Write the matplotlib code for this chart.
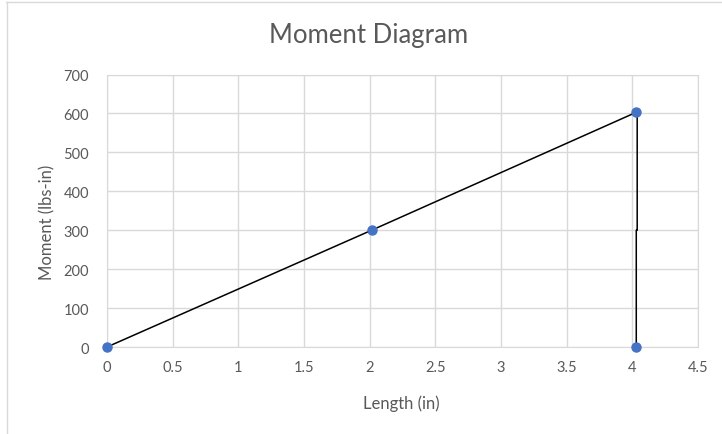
import matplotlib
matplotlib.use("Agg")
import matplotlib.pyplot as plt
from matplotlib.lines import Line2D

# Data
point_x = [0, 2.015, 4.03, 4.03]
point_y = [0, 300, 604, 0]
line_x = [0, 2.015, 4.037, 4.037, 4.03, 4.03]
line_y = [0, 300, 604, 300, 300, 0]
x_ticks = [0, 0.5, 1, 1.5, 2, 2.5, 3, 3.5, 4, 4.5]
x_tick_labels = ["0", "0.5", "1", "1.5", "2", "2.5", "3", "3.5", "4", "4.5"]
y_ticks = [0, 100, 200, 300, 400, 500, 600, 700]
title = "Moment Diagram"
xlabel = "Length (in)"
ylabel = "Moment (lbs-in)"

plt.rcParams['font.family'] = ['Lato', 'DejaVu Sans']
W, H = 722, 435
fig = plt.figure(figsize=(W / 100, H / 100), dpi=100)
fig.patch.set_facecolor('white')

left, right, top, bottom = 107, 698, 75.5, 348
ax = fig.add_axes([left / W, 1 - bottom / H, (right - left) / W, (bottom - top) / H])

text_color = '#595959'
grid_color = '#D9D9D9'

ax.plot(line_x, line_y, color='black', linewidth=1.1, zorder=3, clip_on=False)
ax.plot(point_x, point_y, linestyle='none', marker='o', markersize=6.5,
        color='#4472C4', markeredgecolor='#4472C4', zorder=4, clip_on=False)

ax.set_xlim(0, 4.5)
ax.set_ylim(0, 700)
ax.set_xticks(x_ticks)
ax.set_xticklabels(x_tick_labels)
ax.set_yticks(y_ticks)
ax.grid(True, color=grid_color, linewidth=1.0)
ax.set_axisbelow(True)
for s in ['top', 'right', 'left', 'bottom']:
    ax.spines[s].set_color(grid_color)
ax.tick_params(axis='both', length=0, colors=text_color, labelsize=10.5)
ax.tick_params(axis='x', pad=9)
ax.tick_params(axis='y', pad=13)

fig.text(369 / W, 1 - 36 / H, title, ha='center', va='center', fontsize=18.5, color=text_color)
fig.text(401 / W, 1 - 404 / H, xlabel, ha='center', va='center', fontsize=12, color=text_color)
fig.text(47 / W, 1 - 222 / H, ylabel, ha='center', va='center', rotation=90, fontsize=12, color=text_color)

# outer chart border (top and left visible)
fig.add_artist(Line2D([6 / W, 1], [1 - 2.5 / H, 1 - 2.5 / H], transform=fig.transFigure, color='#D9D9D9', linewidth=1))
fig.add_artist(Line2D([6.5 / W, 6.5 / W], [0, 1 - 2.5 / H], transform=fig.transFigure, color='#D9D9D9', linewidth=1))

fig.savefig('out.png', dpi=100, facecolor='white')
